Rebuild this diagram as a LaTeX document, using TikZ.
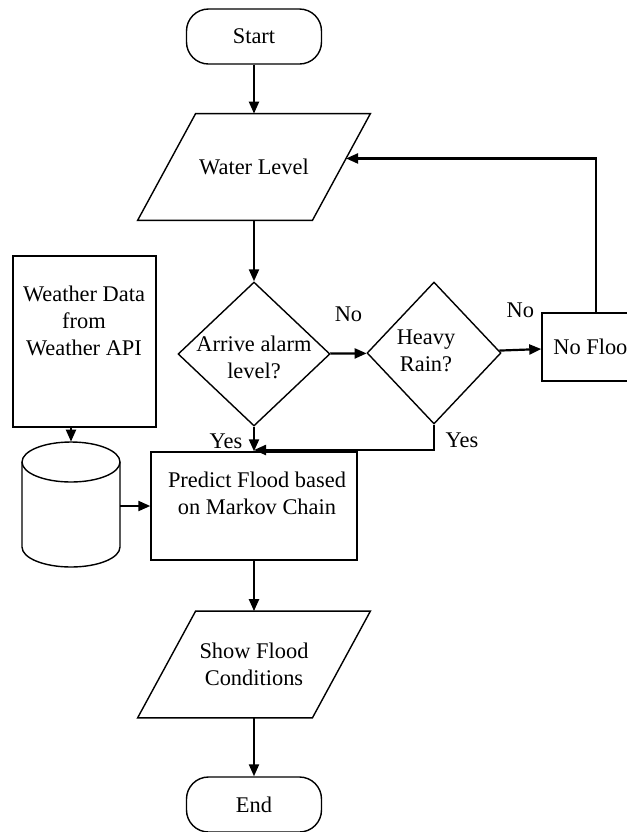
\documentclass[tikz,border=0pt]{standalone}
\usepackage{fontspec}
\setmainfont{Liberation Serif}
\usetikzlibrary{shapes.geometric,arrows.meta,calc}

\begin{document}
\begin{tikzpicture}[x=0.5pt,y=-0.5pt,
		every node/.style={font=\fontsize{11.2pt}{13.5pt}\selectfont},
		line/.style={line width=1.1pt,-{Triangle[length=6pt,width=5pt]}},
		outline/.style={line width=0.7pt},
		term/.style={draw,outline,rounded corners=11pt,minimum width=67.5pt,minimum height=27.5pt},
		io/.style={minimum width=116pt,minimum height=53pt,align=center},
		box/.style={draw,outline,rectangle,inner sep=0pt},
		decision/.style={draw,outline,diamond,inner sep=0pt}]
		
		\useasboundingbox (0,0) rectangle (627,832);
		
		\node[term] (start) at (254,36.5) {Start};
		\node[io] (water) at (254,167) {Water Level};
		\node[decision,minimum width=76pt,minimum height=72pt] (alarm) at (254,354) {};
		\node[align=center] (alarmtext) at (254,357) {Arrive alarm\\level?};
		\node[decision,minimum width=67pt,minimum height=71pt] (rain) at (434,353) {};
		\node[align=center] (raintext) at (426,351) {Heavy\\Rain?};
		\node[box,minimum width=54pt,minimum height=34pt] (noflood) at (596,347) {No Flood};
		\node[box,minimum width=71.5pt,minimum height=85.5pt] (weather) at (84.5,341.5) {};
		\node[align=center] (weathertext) at (84,321) {Weather Data\\from\\Weather API};
		\node[minimum width=49pt,minimum height=62.5pt,inner sep=0pt] (db) at (71,504.5) {};
		\node[box,minimum width=103pt,minimum height=54pt] (predict) at (254,506) {};
		\node[align=center] (predicttext) at (257,493) {Predict Flood based\\on Markov Chain};
		\node[io] (show) at (254,664.5) {Show Flood\\Conditions};
		\node[term] (end) at (254,804.5) {End};
		
		% slanted input/output boxes
		\foreach \n in {water,show}
		\draw[outline] ([xshift=29pt]\n.north west) -- (\n.north east) -- ([xshift=-29pt]\n.south east) -- (\n.south west) -- cycle;
		
		% database drum
		\draw[outline] (71,462) ellipse (49 and 20);
		\draw[outline] (22,462) -- (22,547) arc (180:0:49 and 20) -- (120,462);
		
		\coordinate (join) at (254,450);
		\coordinate (waterin) at ($(water.north east)!0.42!([xshift=-29pt]water.south east)$);
		
		\draw[line] (start) -- (water);
		\draw[line] (water) -- (alarm);
		\draw[line] (alarm) -- node[above=12pt] (no1) {No} (rain);
		\draw[line] (rain) -- node[above=12pt] (no2) {No} (noflood);
		\draw[line] (alarm) -- (predict);
		\draw[line] (rain.south) |- (join);
		\draw[line] (noflood.north) |- (waterin);
		\draw[line] (weather.south -| db.north) -- (db.north);
		\draw[line] (db.east |- predict) -- (predict.west);
		\draw[line] (predict) -- (show);
		\draw[line] (show) -- (end);
		
		\node (yes1) at (226,441) {Yes};
		\node (yes2) at (462,440) {Yes};
		\end{tikzpicture}
\end{document}
